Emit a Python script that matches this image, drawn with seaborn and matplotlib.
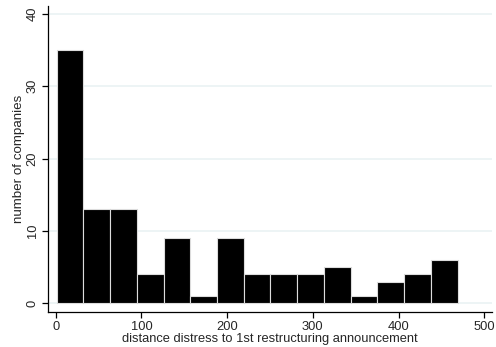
import numpy as np
import pandas as pd
import seaborn as sns
import matplotlib
matplotlib.use("Agg")
import matplotlib.pyplot as plt

# Data
counts = [35, 13, 13, 4, 9, 1, 9, 4, 4, 4, 5, 1, 3, 4, 6]
bin_start = 1.0
bin_width = 31.2
x_ticks = [0, 100, 200, 300, 400, 500]
y_ticks = [0, 10, 20, 30, 40]
x_label = "distance distress to 1st restructuring announcement"
y_label = "number of companies"

n = len(counts)
centers = bin_start + bin_width * (np.arange(n) + 0.5)
df = pd.DataFrame({"distance": centers, "count": counts})

sns.set_theme(style="white")
plt.rcParams["font.family"] = ["Liberation Sans", "DejaVu Sans"]

fig = plt.figure(figsize=(4.96, 3.47), dpi=100)
ax = fig.add_axes([47.7 / 496, (347 - 311.7) / 347, (492 - 47.7) / 496, (311.7 - 6) / 347])

sns.histplot(data=df, x="distance", weights="count", binwidth=bin_width,
             binrange=(bin_start, bin_start + bin_width * n),
             color="black", edgecolor="#dcdcdc", linewidth=0.8, alpha=1.0, ax=ax, zorder=3)

ax.set_xlim(-9.3, 509)
ax.set_ylim(-1.16, 41.1)
ax.set_xticks(x_ticks)
ax.set_yticks(y_ticks)
ax.set_yticklabels([str(v) for v in y_ticks], rotation=90, va="center")
ax.yaxis.grid(True, color="#eaf2f3", linewidth=1.2, zorder=0)
ax.xaxis.grid(False)
ax.set_axisbelow(True)

for s in ["top", "right"]:
    ax.spines[s].set_visible(False)
for s in ["left", "bottom"]:
    ax.spines[s].set_color("black")
    ax.spines[s].set_linewidth(0.9)

ax.tick_params(axis="both", which="major", length=4, width=0.9, color="black",
               direction="out", labelsize=9.3, pad=2.5, bottom=True, left=True)
ax.set_xlabel(x_label, fontsize=9.3, labelpad=0)
ax.set_ylabel(y_label, fontsize=9.6, labelpad=1)

fig.savefig("out.png", dpi=100, facecolor="white")
